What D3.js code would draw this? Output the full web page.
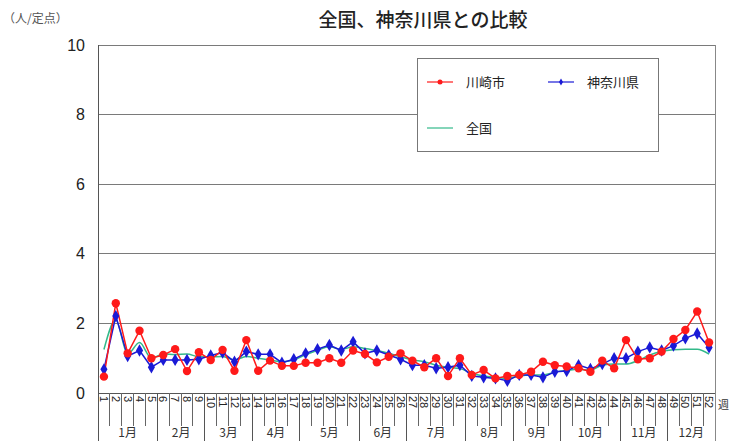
<!DOCTYPE html>
<html><head><meta charset="utf-8">
<script src="https://cdn.jsdelivr.net/npm/d3@7/dist/d3.min.js"></script>
<style>body{margin:0;background:#fff}svg{display:block}</style>
</head><body><svg id="c" width="731" height="441"></svg>
<script>
const weeks = d3.range(1, 53).map(String);
const kawasaki = [0.47,2.58,1.14,1.79,1.0,1.09,1.26,0.63,1.17,0.95,
  1.24,0.64,1.52,0.64,0.93,0.78,0.78,0.87,0.87,1.0,
  0.87,1.22,1.12,0.88,1.04,1.14,0.93,0.74,1.0,0.49,
  1.0,0.52,0.66,0.42,0.49,0.52,0.61,0.9,0.8,0.76,
  0.71,0.61,0.93,0.71,1.52,0.97,1.0,1.19,1.55,1.81,2.34,1.45];
const kanagawa = [0.68,2.21,1.06,1.22,0.74,0.95,0.95,0.95,0.97,1.08,
  1.16,0.9,1.19,1.11,1.11,0.87,0.97,1.14,1.26,1.38,
  1.22,1.47,1.14,1.22,1.09,0.97,0.8,0.8,0.71,0.74,
  0.8,0.49,0.45,0.42,0.35,0.52,0.52,0.45,0.61,0.63,
  0.8,0.69,0.83,1.0,1.0,1.19,1.31,1.22,1.36,1.57,1.71,1.31];
const national = [1.25,2.1,1.12,1.45,1.0,1.12,1.1,1.12,1.04,1.04,
  1.05,0.95,1.05,1.0,0.95,0.9,0.95,1.1,1.23,1.33,
  1.25,1.33,1.28,1.22,1.14,1.04,0.95,0.9,0.8,0.74,
  0.7,0.57,0.49,0.45,0.42,0.49,0.52,0.52,0.6,0.65,
  0.68,0.66,0.8,0.83,0.83,0.93,1.09,1.19,1.24,1.26,1.26,1.12];
const months = ["1月","2月","3月","4月","5月","6月","7月","8月","9月","10月","11月","12月"];
const monthStart = [1,6,10,14,18,23,27,32,36,40,45,49];
const yTicks = [0,2,4,6,8,10];
const title = "全国、神奈川県との比較";
const yUnit = "（人/定点）";
const seriesNames = ["川崎市","神奈川県","全国"];

const svg = d3.select("#c");
const L = 98, R = 715, T = 45, B = 393;
const x = d3.scaleBand().domain(weeks).range([L, R]).padding(0);
const y = d3.scaleLinear().domain([0, 10]).range([B, T]);
const cx = w => x(w) + x.bandwidth() / 2;
const jp = "'Noto Sans CJK JP','Noto Sans',sans-serif";

// gridlines
svg.append("g").selectAll("line").data(yTicks.filter(t => t > 0)).join("line")
  .attr("x1", L).attr("x2", R).attr("y1", d => y(d)).attr("y2", d => y(d))
  .attr("stroke", "#7a7a7a").attr("stroke-width", 1).attr("shape-rendering", "crispEdges");
// frame
svg.append("line").attr("x1", L).attr("x2", L).attr("y1", T).attr("y2", 441).attr("stroke", "#555").attr("shape-rendering", "crispEdges");
svg.append("line").attr("x1", R).attr("x2", R).attr("y1", T).attr("y2", 441).attr("stroke", "#888").attr("shape-rendering", "crispEdges");
svg.append("line").attr("x1", L).attr("x2", R).attr("y1", B).attr("y2", B).attr("stroke", "#555").attr("shape-rendering", "crispEdges");

// y axis
const ya = svg.append("g").attr("transform", `translate(${L - 10},0)`)
  .call(d3.axisLeft(y).tickValues(yTicks).tickSize(0).tickFormat(d3.format("d")));
ya.select(".domain").remove();
ya.selectAll("text").attr("font-family", "Arial, 'Liberation Sans', sans-serif").attr("font-size", 16).attr("fill", "#222").attr("dx", 0);

// x axis: week labels
const xa = svg.append("g").attr("transform", `translate(0,${B})`)
  .call(d3.axisBottom(x).tickSize(0));
xa.select(".domain").remove();
xa.selectAll("text").attr("font-family", "Arial, 'Liberation Sans', sans-serif").attr("font-size", 11).attr("fill", "#222")
  .attr("transform", "rotate(90)").attr("text-anchor", "start").attr("x", 3).attr("y", 0).attr("dy", "0.35em");
// week separators
svg.append("g").selectAll("line").data(weeks.slice(1)).join("line")
  .attr("x1", d => x(d)).attr("x2", d => x(d)).attr("y1", B).attr("y2", B + 33)
  .attr("stroke", "#666").attr("shape-rendering", "crispEdges");
// month separators
svg.append("g").selectAll("line").data(monthStart.slice(1)).join("line")
  .attr("x1", d => x(String(d))).attr("x2", d => x(String(d))).attr("y1", B).attr("y2", 441)
  .attr("stroke", "#555").attr("shape-rendering", "crispEdges");
// month labels
svg.append("g").selectAll("text").data(months).join("text")
  .attr("x", (d, i) => {
    const s = x(String(monthStart[i]));
    const e = i < 11 ? x(String(monthStart[i + 1])) : R;
    return (s + e) / 2;
  })
  .attr("y", 437).attr("text-anchor", "middle")
  .attr("font-family", jp).attr("font-size", 12).attr("fill", "#333").text(d => d);
svg.append("text").attr("x", 718).attr("y", 409).attr("font-family", jp).attr("font-size", 11).attr("fill", "#333").text("週");

// lines
const line = d3.line().x((d, i) => cx(weeks[i])).y(d => y(d));
svg.append("path").datum(national).attr("d", line.curve(d3.curveMonotoneX)).attr("fill", "none").attr("stroke", "#33b98a").attr("stroke-width", 1.5);
line.curve(d3.curveLinear);
svg.append("path").datum(kanagawa).attr("d", line).attr("fill", "none").attr("stroke", "#1a1ad6").attr("stroke-width", 1.5);
svg.append("path").datum(kawasaki).attr("d", line).attr("fill", "none").attr("stroke", "#ff1a1a").attr("stroke-width", 1.5);
// markers
const diamond = d3.symbol().type(d3.symbolDiamond).size(44);
svg.append("g").selectAll("path").data(kanagawa).join("path")
  .attr("transform", (d, i) => `translate(${cx(weeks[i])},${y(d)})`).attr("d", diamond).attr("fill", "#1a1ad6");
svg.append("g").selectAll("circle").data(kawasaki).join("circle")
  .attr("cx", (d, i) => cx(weeks[i])).attr("cy", d => y(d)).attr("r", 4.2).attr("fill", "#ff1a1a");

// title & unit
svg.append("text").attr("x", 423).attr("y", 27).attr("text-anchor", "middle")
  .attr("font-family", jp).attr("font-size", 19).attr("font-weight", 500).attr("fill", "#222").text(title);
svg.append("text").attr("x", 3).attr("y", 23)
  .attr("font-family", jp).attr("font-size", 12).attr("fill", "#555").text(yUnit);

// legend
const lg = svg.append("g");
lg.append("rect").attr("x", 417.5).attr("y", 58.5).attr("width", 241).attr("height", 93)
  .attr("fill", "#fff").attr("stroke", "#777");
const items = [
  {name: seriesNames[0], color: "#ff1a1a", mark: "circle", lx: 427, ly: 82},
  {name: seriesNames[1], color: "#1a1ad6", mark: "diamond", lx: 548, ly: 82},
  {name: seriesNames[2], color: "#33b98a", mark: null, lx: 427, ly: 128}
];
items.forEach(it => {
  lg.append("line").attr("x1", it.lx).attr("x2", it.lx + 26).attr("y1", it.ly).attr("y2", it.ly).attr("stroke", it.color).attr("stroke-width", 1.2);
  if (it.mark === "circle") lg.append("circle").attr("cx", it.lx + 13).attr("cy", it.ly).attr("r", 2.5).attr("fill", it.color);
  if (it.mark === "diamond") lg.append("path").attr("transform", `translate(${it.lx + 13},${it.ly})`).attr("d", d3.symbol().type(d3.symbolDiamond).size(14)).attr("fill", it.color);
  lg.append("text").attr("x", it.lx + 39).attr("y", it.ly).attr("dy", "0.36em")
    .attr("font-family", jp).attr("font-size", 13).attr("fill", "#222").text(it.name);
});
</script></body></html>
